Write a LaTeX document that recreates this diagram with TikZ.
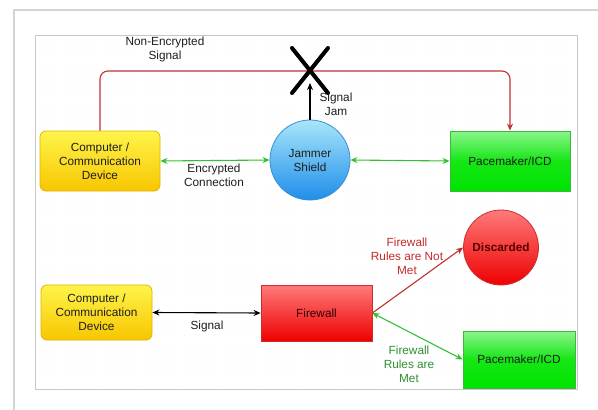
\documentclass[tikz,border=0pt]{standalone}
\usepackage{fontspec}
\setmainfont{Liberation Sans}
\usetikzlibrary{arrows.meta,calc}
\definecolor{frameg}{HTML}{D4D4D4}
\definecolor{panelg}{HTML}{C8C8C8}
\definecolor{dotg}{HTML}{EEEEEE}
\definecolor{yelTop}{HTML}{FFF44A}
\definecolor{yelBot}{HTML}{F7C600}
\definecolor{yelBorder}{HTML}{E0B400}
\definecolor{grnTop}{HTML}{8CF58C}
\definecolor{grnBot}{HTML}{00E400}
\definecolor{grnBorder}{HTML}{3CB83C}
\definecolor{bluTop}{HTML}{A8E6FA}
\definecolor{bluBot}{HTML}{1E8EEA}
\definecolor{bluBorder}{HTML}{3A8ED8}
\definecolor{redTop}{HTML}{FF7A7A}
\definecolor{redBot}{HTML}{EE0000}
\definecolor{redBorder}{HTML}{C83030}
\definecolor{arrGreen}{HTML}{33C133}
\definecolor{arrRed}{HTML}{C43030}
\definecolor{txtRed}{HTML}{C42A2A}
\definecolor{txtGreen}{HTML}{2F8F2F}
\definecolor{txtDark}{HTML}{1E1E1E}
\tikzset{
  fnt/.style={font=\fontsize{11.8}{14}\selectfont},
  lbl/.style={fnt, align=center, text=txtDark, inner sep=0pt},
  devbox/.style={rectangle, rounded corners=6pt, draw=yelBorder, line width=0.8pt,
     top color=yelTop, bottom color=yelBot, align=center, text=txtDark,
     fnt, inner sep=0pt},
  pacebox/.style={rectangle, draw=grnBorder, line width=0.8pt,
     top color=grnTop, bottom color=grnBot, align=center, text=txtDark,
     fnt, inner sep=0pt, middle color=grnBot!85!grnTop},
  fwbox/.style={rectangle, draw=redBorder, line width=0.8pt,
     top color=redTop, bottom color=redBot, align=center, text=black!80!red,
     fnt, inner sep=0pt},
  jamcirc/.style={circle, draw=bluBorder, line width=0.8pt,
     top color=bluTop, bottom color=bluBot, align=center, text=txtDark,
     fnt, inner sep=0pt},
  disccirc/.style={circle, draw=redBorder, line width=0.8pt,
     top color=redTop, bottom color=redBot, align=center, text=black!65!red,
     font=\fontsize{11.8}{14}\selectfont\bfseries, inner sep=0pt},
  garrow/.style={draw=arrGreen, line width=1.1pt, {Stealth[length=7pt,width=6pt]}-{Stealth[length=7pt,width=6pt]}},
  rarrow/.style={draw=arrRed, line width=1.1pt, -{Stealth[length=7pt,width=6pt]}},
  karrow/.style={draw=black, line width=1.1pt},
}
\begin{document}
\begin{tikzpicture}[x=1pt,y=-1pt]
\useasboundingbox (0,0) rectangle (598,410);
\fill[white] (0,0) rectangle (598,410);
% outer frame
\draw[frameg, line width=1.5pt] (14,410) -- (14,10) -- (598,10);
% inner panel
\draw[panelg, line width=0.8pt, fill=white] (35,35) rectangle (577,389);
\foreach \xx in {45,55,...,570} {
  \foreach \yy in {45,55,...,385} {
    \fill[dotg] (\xx,\yy) circle (0.6pt);
  }
}
% nodes top
\node[devbox, minimum width=120pt, minimum height=60pt] (comp1) at (100,161) {Computer /\\Communication\\Device};
\node[jamcirc, minimum size=80pt] (jam) at (310,160) {Jammer\\Shield};
\node[pacebox, minimum width=120pt, minimum height=60pt] (pace1) at (510,161) {Pacemaker/ICD};
\coordinate (xc) at (310,71);
\coordinate (jamtip) at (310,83);
% nodes bottom
\node[devbox, minimum width=111pt, minimum height=55pt] (comp2) at (96.5,312.5) {Computer /\\Communication\\Device};
\node[fwbox, minimum width=111pt, minimum height=56pt] (fw) at (316.5,313) {Firewall};
\node[disccirc, minimum size=75pt] (disc) at (501,247.5) {Discarded};
\node[pacebox, minimum width=112pt, minimum height=57pt] (pace2) at (519,359.5) {Pacemaker/ICD};
% connectors top
\draw[rarrow, rounded corners=8pt] (comp1.north) |- (xc) -| (pace1.north);
\draw[karrow, -{Stealth[length=7pt,width=6pt]}] (jam.north) -- (jamtip);
\draw[black, line width=4pt, line cap=round] ($(xc)+(-18,-23)$) -- ($(xc)+(18,22)$);
\draw[black, line width=4pt, line cap=round] ($(xc)+(18,-23)$) -- ($(xc)+(-18,22)$);
\draw[garrow] (comp1.east) -- (jam.west);
\draw[garrow] (jam.east) -- (pace1.west);
% connectors bottom
\draw[karrow, {Stealth[length=7pt,width=6pt]}-{Stealth[length=7pt,width=6pt]}] (comp2.east) -- (fw.west);
\draw[rarrow] (fw.east) -- (disc.west);
\draw[garrow] (fw.east) -- (pace2.west);
% labels
\node[lbl] (lnon) at (165,49) {Non-Encrypted\\Signal};
\node[lbl] (ljam) at (336,104) {Signal\\Jam};
\node[lbl] (lenc) at (214,175) {Encrypted\\Connection};
\node[lbl] (lsig) at (207,326) {Signal};
\node[lbl, text=txtRed] (lnot) at (407,256) {Firewall\\Rules are Not\\Met};
\node[lbl, text=txtGreen] (lmet) at (409,364) {Firewall\\Rules are\\Met};
\end{tikzpicture}
\end{document}
